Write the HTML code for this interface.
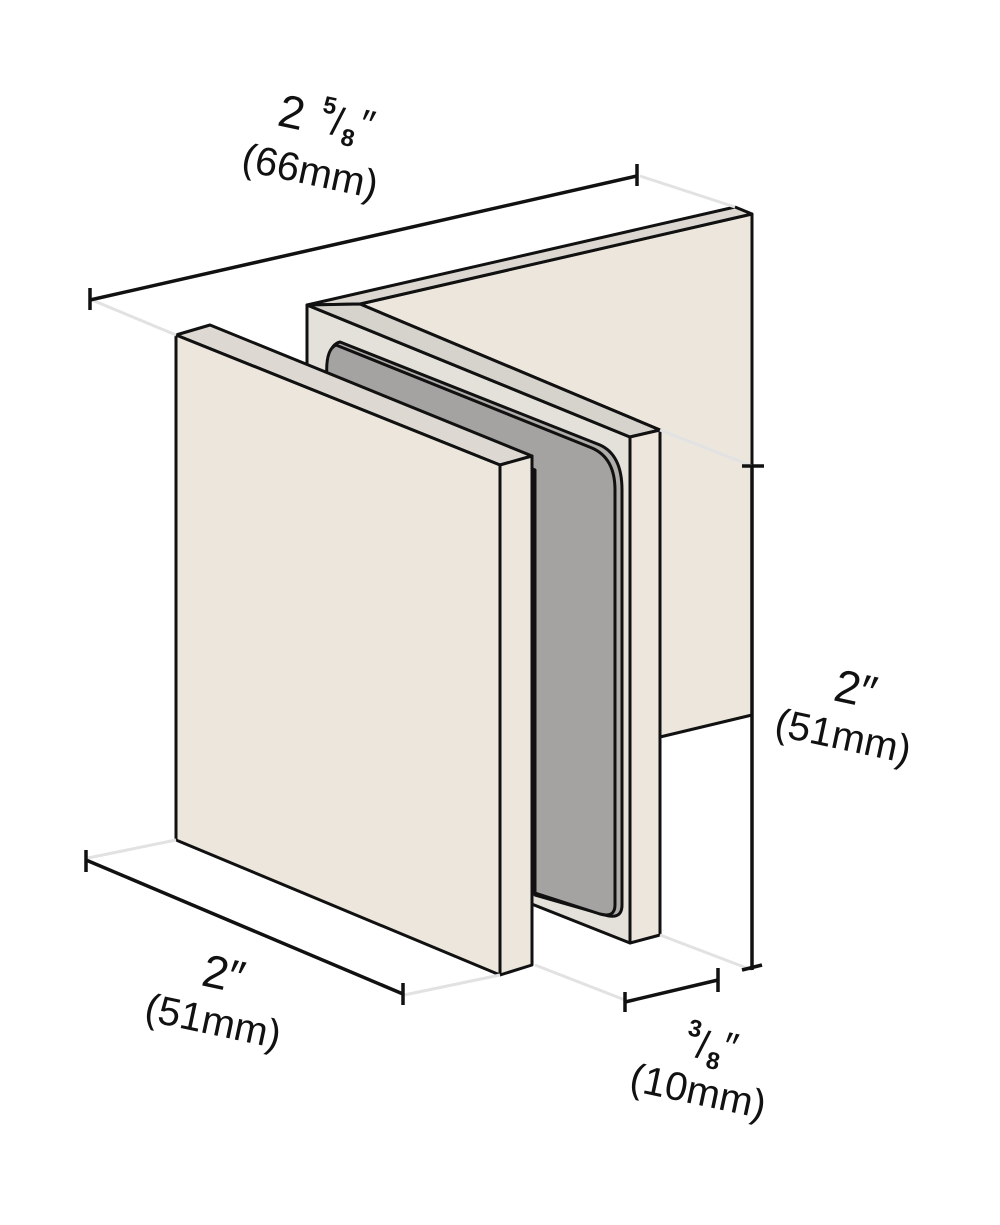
<!DOCTYPE html>
<html><head><style>
html,body{margin:0;padding:0;background:#fff;}
svg{display:block;}
text{font-family:"Liberation Sans",sans-serif;fill:#111;}
</style></head><body>
<svg width="1000" height="1225" viewBox="0 0 1000 1225" xmlns="http://www.w3.org/2000/svg">
<g stroke="#111" stroke-width="3" stroke-linejoin="round">
<polygon points="360,304 752,214 752,715 660,737 660,430" fill="#ece6dc"/>
<polygon points="307,305 735,207 752,214 360,304" fill="#dcd8d1"/>
<polygon points="307,305 630,437 630,943 307,815" fill="#e4e1db"/>
<polygon points="307,305 360,304 660,430 630,437" fill="#d6d3cd"/>
<polygon points="630,437 660,430 660,935 630,943" fill="#ece6dc"/>
<path d="M340,342 L600,445 Q622,455 622,490 L622,905 Q622,920 605,915 L535,895 L535,470 L327,375 Q327,345 340,342 Z" fill="#b0aeab"/>
<path d="M336,345 L592,448 Q615,458 615,490 L615,905 Q615,918 600,914 L535,893 L535,470 L327,378 Q325,350 336,345 Z" fill="#a4a3a1"/>
<polygon points="176,335 210,325 532,456 500,465" fill="#ddd9d2"/>
<polygon points="500,465 532,456 532,965 500,975" fill="#ece6dc"/>
<polygon points="176,335 500,465 500,975 176,840" fill="#ece6dc"/>
</g>
<g stroke="#e2e2e2" stroke-width="3" fill="none">
<line x1="92" y1="300" x2="176" y2="335"/>
<line x1="640" y1="176" x2="735" y2="207"/>
<line x1="660" y1="430" x2="752" y2="466"/>
<line x1="88" y1="858" x2="176" y2="840"/>
<line x1="404" y1="995" x2="500" y2="975"/>
<line x1="535" y1="965" x2="625" y2="1000"/>
<line x1="660" y1="935" x2="752" y2="970"/>
</g>
<g stroke="#111" stroke-width="3.5" fill="none">
<line x1="90" y1="300" x2="637" y2="176"/>
<line x1="90" y1="288" x2="90" y2="310"/>
<line x1="637" y1="164" x2="637" y2="186"/>
<line x1="752" y1="466" x2="752" y2="970"/>
<line x1="742" y1="466" x2="764" y2="466"/>
<line x1="742" y1="970" x2="762" y2="965"/>
<line x1="86" y1="860" x2="403" y2="994"/>
<line x1="86" y1="850" x2="86" y2="872"/>
<line x1="403" y1="983" x2="403" y2="1005"/>
<line x1="625" y1="1002" x2="718" y2="980"/>
<line x1="625" y1="992" x2="625" y2="1012"/>
<line x1="718" y1="968" x2="718" y2="992"/>
</g>
<g font-size="46">
<text x="276" y="125" transform="rotate(12 276 125)">2</text>
<g transform="rotate(12 320 130)">
<text x="318" y="112" font-size="24" font-weight="bold">5</text>
<text x="330" y="132" font-size="40">/</text>
<text x="342" y="140" font-size="24" font-weight="bold">8</text>
<text x="358" y="128" font-size="40">″</text>
</g>
<text x="240" y="170" font-size="40" transform="rotate(12 240 170)">(66mm)</text>
<text x="832" y="700" transform="rotate(12 832 700)">2″</text>
<text x="773" y="735" font-size="40" transform="rotate(12 773 735)">(51mm)</text>
<text x="200" y="985" transform="rotate(12 200 985)">2″</text>
<text x="143" y="1020" font-size="40" transform="rotate(12 143 1020)">(51mm)</text>
<g transform="rotate(12 690 1050)">
<text x="684" y="1036" font-size="24" font-weight="bold">3</text>
<text x="696" y="1056" font-size="40">/</text>
<text x="708" y="1064" font-size="24" font-weight="bold">8</text>
<text x="722" y="1052" font-size="40">″</text>
</g>
<text x="628" y="1090" font-size="40" transform="rotate(12 628 1090)">(10mm)</text>
</g>
</svg>
</body></html>
